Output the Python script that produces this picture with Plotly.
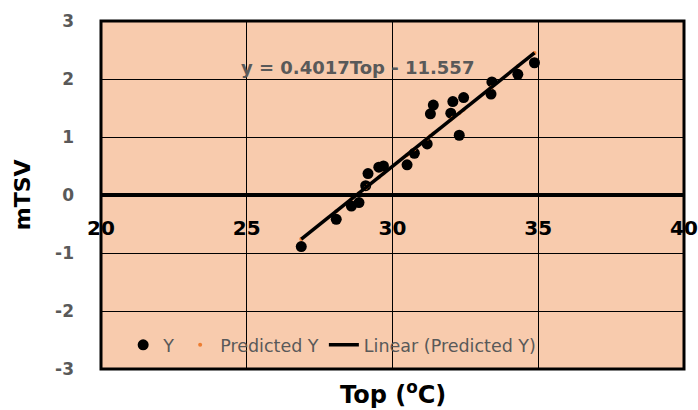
import plotly.graph_objects as go

top = [26.87, 28.07, 28.59, 28.85, 29.08, 29.16, 29.53, 29.69, 30.50, 30.75, 31.19,
       31.30, 31.40, 32.00, 32.07, 32.29, 32.44, 33.38, 33.41, 34.30, 34.87]
y_obs = [-0.89, -0.42, -0.19, -0.13, 0.16, 0.37, 0.48, 0.50, 0.52, 0.72, 0.88,
         1.40, 1.55, 1.41, 1.61, 1.03, 1.68, 1.74, 1.95, 2.08, 2.28]
y_pred = [-0.76, -0.28, -0.07, 0.03, 0.12, 0.16, 0.30, 0.37, 0.69, 0.79, 0.97,
          1.02, 1.06, 1.30, 1.33, 1.41, 1.47, 1.85, 1.86, 2.22, 2.45]
trend_x = [26.87, 34.87]
trend_y = [-0.76, 2.45]
equation = "y = 0.4017Top - 11.557"
x_ticks = [20, 25, 30, 35, 40]
y_ticks = [-3, -2, -1, 0, 1, 2, 3]
y_ticktext = ["-3", "-2", "-1", "0", "1", "2", "3"]

FONT = "DejaVu Sans"
GRAY = "#595959"

fig = go.Figure()
fig.add_trace(go.Scatter(x=top, y=y_obs, mode="markers", name="Y",
                         marker=dict(color="black", size=11)))
fig.add_trace(go.Scatter(x=top, y=y_pred, mode="markers", name="Predicted Y",
                         marker=dict(color="#ED7D31", size=4)))
fig.add_trace(go.Scatter(x=trend_x, y=trend_y, mode="lines", name="Linear (Predicted Y)",
                         line=dict(color="black", width=3.5)))

fig.update_layout(
    width=698, height=410,
    margin=dict(l=101, r=14, t=21, b=41, autoexpand=False),
    paper_bgcolor="white", plot_bgcolor="#F8CBAD",
    font=dict(family=FONT),
    showlegend=True,
    legend=dict(orientation="h", x=0.038, y=0.069, xanchor="left", yanchor="middle",
                bgcolor="rgba(0,0,0,0)", font=dict(size=17.5, color=GRAY, family=FONT),
                itemwidth=30, tracegroupgap=0),
    xaxis=dict(range=[20, 40], tickvals=x_ticks, anchor="free", position=0.5,
               automargin=False,
               showline=True, linecolor="black", linewidth=3.5,
               showgrid=True, gridcolor="black", gridwidth=1, zeroline=False,
               ticks="", ticklabelstandoff=14,
               tickfont=dict(size=20, color="black", family=FONT, weight="bold")),
    yaxis=dict(range=[-3, 3], tickvals=y_ticks, ticktext=y_ticktext, automargin=False,
               showgrid=True, gridcolor="black",
               gridwidth=1, zeroline=False, showline=False, ticks="",
               ticklabelstandoff=26,
               tickfont=dict(size=17, color=GRAY, family=FONT, weight="bold")),
    shapes=[dict(type="rect", xref="paper", yref="paper", x0=0, x1=1, y0=0, y1=1,
                 line=dict(color="black", width=3), fillcolor="rgba(0,0,0,0)", layer="above")],
    annotations=[
        dict(text=equation, xref="paper", yref="paper", x=0.44, y=0.902, showarrow=False,
             font=dict(size=18, color=GRAY, family=FONT, weight="bold")),
        dict(text="Top (<sup>o</sup>C)", xref="paper", yref="paper", x=0.5, y=-0.069,
             yanchor="middle", showarrow=False,
             font=dict(size=24, color="black", family=FONT, weight="bold")),
        dict(text="mTSV", xref="paper", yref="paper", x=-0.135, y=0.5, textangle=-90,
             showarrow=False, xanchor="center", yanchor="middle",
             font=dict(size=22, color="black", family=FONT, weight="bold")),
    ],
)

fig.write_html("out.html", config={"displayModeBar": False},
               post_script="document.body.style.margin='0';")
